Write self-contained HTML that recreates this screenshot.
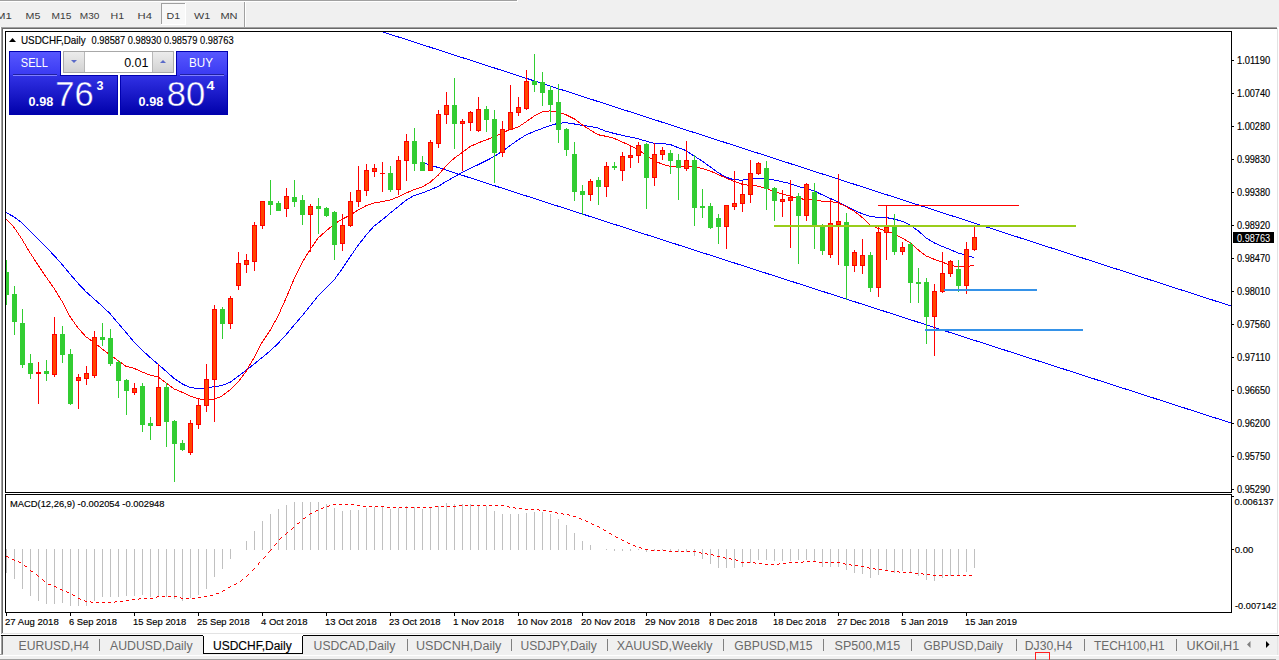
<!DOCTYPE html>
<html><head><meta charset="utf-8"><title>USDCHF,Daily</title>
<style>html,body{margin:0;padding:0;background:#f0f0f0}#root{position:relative;width:1279px;height:660px;overflow:hidden}</style>
</head><body><div id="root">
<svg width="1279" height="660" viewBox="0 0 1279 660" style="position:absolute;left:0;top:0"><defs><clipPath id="cm"><rect x="6" y="32" width="1225" height="460"/></clipPath><clipPath id="cd"><rect x="6" y="495" width="1225" height="117"/></clipPath><linearGradient id="gtop" x1="0" y1="0" x2="0" y2="1"><stop offset="0" stop-color="#5858ff"/><stop offset="1" stop-color="#3a3af2"/></linearGradient><linearGradient id="gbot" x1="0" y1="0" x2="0" y2="1"><stop offset="0" stop-color="#3232e6"/><stop offset="1" stop-color="#0000aa"/></linearGradient><linearGradient id="gbotU" gradientUnits="userSpaceOnUse" x1="0" y1="75" x2="0" y2="115"><stop offset="0" stop-color="#3232e6"/><stop offset="1" stop-color="#0000aa"/></linearGradient><linearGradient id="gbtn" x1="0" y1="0" x2="0" y2="1"><stop offset="0" stop-color="#ececec"/><stop offset="1" stop-color="#d2d2d2"/></linearGradient></defs><rect x="0" y="0" width="1279" height="660" fill="#f0f0f0"/><rect x="0" y="0" width="517" height="1" fill="#a0a0a0"/><rect x="0" y="1" width="518" height="1" fill="#ffffff"/><rect x="517" y="0" width="1" height="1" fill="#ffffff"/><rect x="0" y="27" width="1279" height="608" fill="#ffffff"/><rect x="1" y="27" width="1276" height="1" fill="#a0a0a0"/><rect x="1" y="27" width="1" height="607" fill="#a0a0a0"/><rect x="2" y="28" width="1275" height="1" fill="#696969"/><rect x="2" y="28" width="1" height="605" fill="#696969"/><rect x="1277" y="28" width="1" height="606" fill="#e3e3e3"/><rect x="2" y="633" width="1276" height="1" fill="#e3e3e3"/><rect x="1278" y="27" width="1" height="608" fill="#ffffff"/><rect x="161" y="3" width="25" height="22" fill="#f8f8f8"/><rect x="161" y="3" width="25" height="1" fill="#a0a0a0"/><rect x="161" y="3" width="1" height="22" fill="#a0a0a0"/><rect x="185" y="3" width="1" height="22" fill="#ffffff"/><rect x="161" y="24" width="25" height="1" fill="#ffffff"/><rect x="244" y="2" width="1" height="25" fill="#a0a0a0"/><rect x="245" y="2" width="1" height="25" fill="#ffffff"/><text x="-4" y="19" font-family="'Liberation Sans', Arial, sans-serif" font-size="9.6" fill="#3c3c3c" textLength="15.8" lengthAdjust="spacingAndGlyphs">M1</text><text x="25.6" y="19" font-family="'Liberation Sans', Arial, sans-serif" font-size="9.6" fill="#3c3c3c" textLength="14.8" lengthAdjust="spacingAndGlyphs">M5</text><text x="51.6" y="19" font-family="'Liberation Sans', Arial, sans-serif" font-size="9.6" fill="#3c3c3c" textLength="19.8" lengthAdjust="spacingAndGlyphs">M15</text><text x="79.8" y="19" font-family="'Liberation Sans', Arial, sans-serif" font-size="9.6" fill="#3c3c3c" textLength="19.6" lengthAdjust="spacingAndGlyphs">M30</text><text x="110.6" y="19" font-family="'Liberation Sans', Arial, sans-serif" font-size="9.6" fill="#3c3c3c" textLength="13.6" lengthAdjust="spacingAndGlyphs">H1</text><text x="137.6" y="19" font-family="'Liberation Sans', Arial, sans-serif" font-size="9.6" fill="#3c3c3c" textLength="14.4" lengthAdjust="spacingAndGlyphs">H4</text><text x="166.6" y="19" font-family="'Liberation Sans', Arial, sans-serif" font-size="9.6" fill="#3c3c3c" textLength="13.6" lengthAdjust="spacingAndGlyphs">D1</text><text x="194" y="19" font-family="'Liberation Sans', Arial, sans-serif" font-size="9.6" fill="#3c3c3c" textLength="16.2" lengthAdjust="spacingAndGlyphs">W1</text><text x="220.4" y="19" font-family="'Liberation Sans', Arial, sans-serif" font-size="9.6" fill="#3c3c3c" textLength="17.2" lengthAdjust="spacingAndGlyphs">MN</text><rect x="5.5" y="31.5" width="1226" height="461" fill="none" stroke="#000" stroke-width="1"/><rect x="5.5" y="494.5" width="1226" height="118" fill="none" stroke="#000" stroke-width="1"/><g clip-path="url(#cm)"><g shape-rendering="crispEdges" stroke="#0000ff" stroke-width="1" fill="none"><line x1="383" y1="32" x2="1231" y2="306"/><line x1="425" y1="163.3" x2="1231" y2="423"/></g><polyline points="6,212.6 14,216.8 22,223.0 30,231.1 38,239.1 46,247.0 54,255.4 62,264.4 70,274.0 78,283.3 86,291.8 94,298.9 102,306.0 110,313.6 118,323.1 126,332.3 134,341.9 142,350.0 150,357.3 158,364.2 166,371.2 174,378.3 182,383.8 190,387.5 198,388.5 206,388.2 214,386.7 222,385.5 230,382.3 238,376.5 246,370.5 254,364.1 262,357.6 270,351.0 278,343.5 286,334.8 294,325.3 302,316.0 310,306.0 318,296.1 326,288.1 334,280.1 342,269.0 350,257.1 358,245.4 366,235.3 374,226.1 382,220.0 390,213.2 398,206.8 406,200.3 414,195.6 422,193.1 430,190.0 438,186.5 446,181.5 454,177.0 462,172.5 470,168.3 478,164.8 486,160.8 494,156.6 502,151.5 510,145.7 518,139.9 526,135.0 534,131.5 542,128.5 550,125.6 558,123.3 566,122.7 574,123.9 582,125.4 590,126.3 598,128.1 606,131.3 614,133.4 622,135.3 630,137.0 638,138.7 646,141.1 654,143.4 662,143.5 670,144.4 678,147.6 686,150.6 694,155.9 702,160.9 710,166.7 718,172.6 726,177.2 734,179.8 742,180.1 750,179.2 758,178.5 766,178.8 774,180.0 782,181.7 790,183.5 798,186.5 806,188.4 814,190.8 822,194.7 830,198.3 838,201.8 846,206.0 854,210.2 862,213.6 870,216.2 878,217.5 886,217.5 894,219.1 902,221.2 910,225.1 918,230.7 926,237.8 934,242.8 942,246.3 950,249.4 958,253.0 966,255.0 974,257.6" fill="none" stroke="#0000ff" stroke-width="1" shape-rendering="crispEdges"/><polyline points="6,218.8 14,227.3 22,239.3 30,252.7 38,265.0 46,276.9 54,288.2 62,301.3 70,316.6 78,327.9 86,336.8 94,342.5 102,348.8 110,354.8 118,360.6 126,366.3 134,368.3 142,371.9 150,375.1 158,376.8 166,382.8 174,388.9 182,392.2 190,396.0 198,398.5 206,400.3 214,399.4 222,396.0 230,389.8 238,382.2 246,371.5 254,357.7 262,342.5 270,330.5 278,316.1 286,298.3 294,279.2 302,262.7 310,249.8 318,238.1 326,231.1 334,224.2 342,219.3 350,215.3 358,210.1 366,205.8 374,203.0 382,201.6 390,200.1 398,197.0 406,193.1 414,189.5 422,187.2 430,182.3 438,175.4 446,166.0 454,158.4 462,152.7 470,146.6 478,143.0 486,139.9 494,137.0 502,132.9 510,129.6 518,127.2 526,121.8 534,116.2 542,112.0 550,110.8 558,112.4 566,114.7 574,118.7 582,124.7 590,129.8 598,134.7 606,136.3 614,138.3 622,141.9 630,145.4 638,149.8 646,155.0 654,160.6 662,164.1 670,166.3 678,166.3 686,166.3 694,166.8 702,168.4 710,170.9 718,174.4 726,178.1 734,181.3 742,184.2 750,185.5 758,186.1 766,188.4 774,191.3 782,193.9 790,196.0 798,198.5 806,199.4 814,200.0 822,201.1 830,201.5 838,202.8 846,206.6 854,211.0 862,217.3 870,224.9 878,228.5 886,231.0 894,233.8 902,237.9 910,242.8 918,249.7 926,255.9 934,259.2 942,262.1 950,265.0 958,267.0 966,266.8 974,265.3" fill="none" stroke="#ff0000" stroke-width="1" shape-rendering="crispEdges"/><g shape-rendering="crispEdges"><rect x="6" y="260" width="1" height="45" fill="#32cd32"/><rect x="4" y="272" width="5" height="23" fill="#32cd32"/><rect x="14" y="286" width="1" height="49" fill="#32cd32"/><rect x="12" y="294" width="5" height="28" fill="#32cd32"/><rect x="22" y="309" width="1" height="59" fill="#32cd32"/><rect x="20" y="323" width="5" height="42" fill="#32cd32"/><rect x="30" y="354" width="1" height="25" fill="#32cd32"/><rect x="28" y="363" width="5" height="11" fill="#32cd32"/><rect x="38" y="362" width="1" height="42" fill="#ff0000"/><rect x="36" y="372" width="5" height="2" fill="#ff0000"/><rect x="46" y="360" width="1" height="21" fill="#32cd32"/><rect x="44" y="371" width="5" height="3" fill="#32cd32"/><rect x="54" y="317" width="1" height="60" fill="#ff0000"/><rect x="52" y="334" width="5" height="41" fill="#ff0000"/><rect x="53" y="335" width="3" height="39" fill="#ff4500"/><rect x="62" y="326" width="1" height="37" fill="#32cd32"/><rect x="60" y="334" width="5" height="21" fill="#32cd32"/><rect x="70" y="349" width="1" height="56" fill="#32cd32"/><rect x="68" y="354" width="5" height="50" fill="#32cd32"/><rect x="78" y="374" width="1" height="35" fill="#ff0000"/><rect x="76" y="377" width="5" height="4" fill="#ff0000"/><rect x="77" y="378" width="3" height="2" fill="#ff4500"/><rect x="86" y="366" width="1" height="19" fill="#ff0000"/><rect x="84" y="373" width="5" height="6" fill="#ff0000"/><rect x="85" y="374" width="3" height="4" fill="#ff4500"/><rect x="94" y="331" width="1" height="47" fill="#ff0000"/><rect x="92" y="337" width="5" height="39" fill="#ff0000"/><rect x="93" y="338" width="3" height="37" fill="#ff4500"/><rect x="102" y="323" width="1" height="23" fill="#32cd32"/><rect x="100" y="337" width="5" height="3" fill="#32cd32"/><rect x="110" y="329" width="1" height="37" fill="#32cd32"/><rect x="108" y="338" width="5" height="26" fill="#32cd32"/><rect x="118" y="360" width="1" height="38" fill="#32cd32"/><rect x="116" y="362" width="5" height="19" fill="#32cd32"/><rect x="126" y="379" width="1" height="36" fill="#32cd32"/><rect x="124" y="380" width="5" height="11" fill="#32cd32"/><rect x="134" y="383" width="1" height="12" fill="#ff0000"/><rect x="132" y="388" width="5" height="5" fill="#ff0000"/><rect x="133" y="389" width="3" height="3" fill="#ff4500"/><rect x="142" y="383" width="1" height="49" fill="#32cd32"/><rect x="140" y="386" width="5" height="39" fill="#32cd32"/><rect x="150" y="417" width="1" height="23" fill="#32cd32"/><rect x="148" y="423" width="5" height="3" fill="#32cd32"/><rect x="158" y="364" width="1" height="62" fill="#ff0000"/><rect x="156" y="387" width="5" height="39" fill="#ff0000"/><rect x="157" y="388" width="3" height="37" fill="#ff4500"/><rect x="166" y="383" width="1" height="64" fill="#32cd32"/><rect x="164" y="387" width="5" height="35" fill="#32cd32"/><rect x="174" y="420" width="1" height="62" fill="#32cd32"/><rect x="172" y="421" width="5" height="23" fill="#32cd32"/><rect x="182" y="440" width="1" height="11" fill="#32cd32"/><rect x="180" y="443" width="5" height="7" fill="#32cd32"/><rect x="190" y="420" width="1" height="35" fill="#ff0000"/><rect x="188" y="423" width="5" height="30" fill="#ff0000"/><rect x="189" y="424" width="3" height="28" fill="#ff4500"/><rect x="198" y="398" width="1" height="31" fill="#ff0000"/><rect x="196" y="405" width="5" height="20" fill="#ff0000"/><rect x="197" y="406" width="3" height="18" fill="#ff4500"/><rect x="206" y="364" width="1" height="48" fill="#ff0000"/><rect x="204" y="379" width="5" height="27" fill="#ff0000"/><rect x="205" y="380" width="3" height="25" fill="#ff4500"/><rect x="214" y="305" width="1" height="117" fill="#ff0000"/><rect x="212" y="309" width="5" height="71" fill="#ff0000"/><rect x="213" y="310" width="3" height="69" fill="#ff4500"/><rect x="222" y="307" width="1" height="32" fill="#32cd32"/><rect x="220" y="309" width="5" height="15" fill="#32cd32"/><rect x="230" y="296" width="1" height="33" fill="#ff0000"/><rect x="228" y="298" width="5" height="26" fill="#ff0000"/><rect x="229" y="299" width="3" height="24" fill="#ff4500"/><rect x="238" y="252" width="1" height="38" fill="#ff0000"/><rect x="236" y="263" width="5" height="23" fill="#ff0000"/><rect x="237" y="264" width="3" height="21" fill="#ff4500"/><rect x="246" y="254" width="1" height="19" fill="#ff0000"/><rect x="244" y="260" width="5" height="5" fill="#ff0000"/><rect x="245" y="261" width="3" height="3" fill="#ff4500"/><rect x="254" y="222" width="1" height="49" fill="#ff0000"/><rect x="252" y="225" width="5" height="37" fill="#ff0000"/><rect x="253" y="226" width="3" height="35" fill="#ff4500"/><rect x="262" y="201" width="1" height="28" fill="#ff0000"/><rect x="260" y="201" width="5" height="25" fill="#ff0000"/><rect x="261" y="202" width="3" height="23" fill="#ff4500"/><rect x="270" y="180" width="1" height="35" fill="#32cd32"/><rect x="268" y="201" width="5" height="4" fill="#32cd32"/><rect x="278" y="201" width="1" height="10" fill="#32cd32"/><rect x="276" y="203" width="5" height="8" fill="#32cd32"/><rect x="286" y="188" width="1" height="29" fill="#ff0000"/><rect x="284" y="196" width="5" height="13" fill="#ff0000"/><rect x="285" y="197" width="3" height="11" fill="#ff4500"/><rect x="294" y="180" width="1" height="27" fill="#32cd32"/><rect x="292" y="197" width="5" height="5" fill="#32cd32"/><rect x="302" y="195" width="1" height="30" fill="#32cd32"/><rect x="300" y="200" width="5" height="15" fill="#32cd32"/><rect x="310" y="204" width="1" height="48" fill="#ff0000"/><rect x="308" y="206" width="5" height="9" fill="#ff0000"/><rect x="309" y="207" width="3" height="7" fill="#ff4500"/><rect x="318" y="198" width="1" height="36" fill="#32cd32"/><rect x="316" y="206" width="5" height="3" fill="#32cd32"/><rect x="326" y="207" width="1" height="10" fill="#32cd32"/><rect x="324" y="208" width="5" height="8" fill="#32cd32"/><rect x="334" y="211" width="1" height="49" fill="#32cd32"/><rect x="332" y="212" width="5" height="33" fill="#32cd32"/><rect x="342" y="214" width="1" height="37" fill="#ff0000"/><rect x="340" y="225" width="5" height="19" fill="#ff0000"/><rect x="341" y="226" width="3" height="17" fill="#ff4500"/><rect x="350" y="192" width="1" height="35" fill="#ff0000"/><rect x="348" y="201" width="5" height="25" fill="#ff0000"/><rect x="349" y="202" width="3" height="23" fill="#ff4500"/><rect x="358" y="166" width="1" height="41" fill="#ff0000"/><rect x="356" y="190" width="5" height="12" fill="#ff0000"/><rect x="357" y="191" width="3" height="10" fill="#ff4500"/><rect x="366" y="164" width="1" height="32" fill="#ff0000"/><rect x="364" y="170" width="5" height="21" fill="#ff0000"/><rect x="365" y="171" width="3" height="19" fill="#ff4500"/><rect x="374" y="164" width="1" height="13" fill="#ff0000"/><rect x="372" y="168" width="5" height="4" fill="#ff0000"/><rect x="373" y="169" width="3" height="2" fill="#ff4500"/><rect x="382" y="162" width="1" height="30" fill="#ff0000"/><rect x="380" y="173" width="5" height="1" fill="#ff0000"/><rect x="390" y="166" width="1" height="26" fill="#32cd32"/><rect x="388" y="173" width="5" height="17" fill="#32cd32"/><rect x="398" y="156" width="1" height="39" fill="#ff0000"/><rect x="396" y="160" width="5" height="30" fill="#ff0000"/><rect x="397" y="161" width="3" height="28" fill="#ff4500"/><rect x="406" y="134" width="1" height="47" fill="#ff0000"/><rect x="404" y="141" width="5" height="20" fill="#ff0000"/><rect x="405" y="142" width="3" height="18" fill="#ff4500"/><rect x="414" y="128" width="1" height="43" fill="#32cd32"/><rect x="412" y="141" width="5" height="23" fill="#32cd32"/><rect x="422" y="156" width="1" height="15" fill="#32cd32"/><rect x="420" y="162" width="5" height="9" fill="#32cd32"/><rect x="430" y="140" width="1" height="31" fill="#ff0000"/><rect x="428" y="142" width="5" height="29" fill="#ff0000"/><rect x="429" y="143" width="3" height="27" fill="#ff4500"/><rect x="438" y="110" width="1" height="38" fill="#ff0000"/><rect x="436" y="114" width="5" height="30" fill="#ff0000"/><rect x="437" y="115" width="3" height="28" fill="#ff4500"/><rect x="446" y="92" width="1" height="32" fill="#ff0000"/><rect x="444" y="105" width="5" height="10" fill="#ff0000"/><rect x="445" y="106" width="3" height="8" fill="#ff4500"/><rect x="454" y="78" width="1" height="71" fill="#32cd32"/><rect x="452" y="105" width="5" height="19" fill="#32cd32"/><rect x="462" y="119" width="1" height="52" fill="#ff0000"/><rect x="460" y="121" width="5" height="3" fill="#ff0000"/><rect x="461" y="122" width="3" height="1" fill="#ff4500"/><rect x="470" y="111" width="1" height="20" fill="#ff0000"/><rect x="468" y="112" width="5" height="11" fill="#ff0000"/><rect x="469" y="113" width="3" height="9" fill="#ff4500"/><rect x="478" y="97" width="1" height="35" fill="#ff0000"/><rect x="476" y="109" width="5" height="22" fill="#ff0000"/><rect x="477" y="110" width="3" height="20" fill="#ff4500"/><rect x="486" y="106" width="1" height="26" fill="#32cd32"/><rect x="484" y="109" width="5" height="11" fill="#32cd32"/><rect x="494" y="110" width="1" height="73" fill="#32cd32"/><rect x="492" y="119" width="5" height="34" fill="#32cd32"/><rect x="502" y="121" width="1" height="36" fill="#ff0000"/><rect x="500" y="129" width="5" height="24" fill="#ff0000"/><rect x="501" y="130" width="3" height="22" fill="#ff4500"/><rect x="510" y="85" width="1" height="45" fill="#ff0000"/><rect x="508" y="112" width="5" height="18" fill="#ff0000"/><rect x="509" y="113" width="3" height="16" fill="#ff4500"/><rect x="518" y="97" width="1" height="19" fill="#ff0000"/><rect x="516" y="107" width="5" height="6" fill="#ff0000"/><rect x="517" y="108" width="3" height="4" fill="#ff4500"/><rect x="526" y="70" width="1" height="40" fill="#ff0000"/><rect x="524" y="81" width="5" height="28" fill="#ff0000"/><rect x="525" y="82" width="3" height="26" fill="#ff4500"/><rect x="534" y="54" width="1" height="38" fill="#32cd32"/><rect x="532" y="81" width="5" height="4" fill="#32cd32"/><rect x="542" y="72" width="1" height="34" fill="#32cd32"/><rect x="540" y="82" width="5" height="11" fill="#32cd32"/><rect x="550" y="86" width="1" height="36" fill="#32cd32"/><rect x="548" y="90" width="5" height="15" fill="#32cd32"/><rect x="558" y="84" width="1" height="59" fill="#32cd32"/><rect x="556" y="102" width="5" height="28" fill="#32cd32"/><rect x="566" y="128" width="1" height="28" fill="#32cd32"/><rect x="564" y="129" width="5" height="21" fill="#32cd32"/><rect x="574" y="142" width="1" height="59" fill="#32cd32"/><rect x="572" y="154" width="5" height="38" fill="#32cd32"/><rect x="582" y="185" width="1" height="30" fill="#32cd32"/><rect x="580" y="191" width="5" height="4" fill="#32cd32"/><rect x="590" y="179" width="1" height="22" fill="#ff0000"/><rect x="588" y="181" width="5" height="14" fill="#ff0000"/><rect x="589" y="182" width="3" height="12" fill="#ff4500"/><rect x="598" y="177" width="1" height="28" fill="#32cd32"/><rect x="596" y="180" width="5" height="7" fill="#32cd32"/><rect x="606" y="162" width="1" height="35" fill="#ff0000"/><rect x="604" y="166" width="5" height="21" fill="#ff0000"/><rect x="605" y="167" width="3" height="19" fill="#ff4500"/><rect x="614" y="162" width="1" height="8" fill="#32cd32"/><rect x="612" y="166" width="5" height="2" fill="#32cd32"/><rect x="622" y="152" width="1" height="29" fill="#ff0000"/><rect x="620" y="156" width="5" height="15" fill="#ff0000"/><rect x="621" y="157" width="3" height="13" fill="#ff4500"/><rect x="630" y="145" width="1" height="23" fill="#ff0000"/><rect x="628" y="155" width="5" height="3" fill="#ff0000"/><rect x="629" y="156" width="3" height="1" fill="#ff4500"/><rect x="638" y="142" width="1" height="21" fill="#ff0000"/><rect x="636" y="145" width="5" height="11" fill="#ff0000"/><rect x="637" y="146" width="3" height="9" fill="#ff4500"/><rect x="646" y="143" width="1" height="66" fill="#32cd32"/><rect x="644" y="144" width="5" height="34" fill="#32cd32"/><rect x="654" y="143" width="1" height="43" fill="#ff0000"/><rect x="652" y="154" width="5" height="24" fill="#ff0000"/><rect x="653" y="155" width="3" height="22" fill="#ff4500"/><rect x="662" y="147" width="1" height="13" fill="#ff0000"/><rect x="660" y="150" width="5" height="5" fill="#ff0000"/><rect x="661" y="151" width="3" height="3" fill="#ff4500"/><rect x="670" y="150" width="1" height="24" fill="#32cd32"/><rect x="668" y="153" width="5" height="8" fill="#32cd32"/><rect x="678" y="154" width="1" height="46" fill="#32cd32"/><rect x="676" y="160" width="5" height="8" fill="#32cd32"/><rect x="686" y="141" width="1" height="30" fill="#ff0000"/><rect x="684" y="160" width="5" height="9" fill="#ff0000"/><rect x="685" y="161" width="3" height="7" fill="#ff4500"/><rect x="694" y="155" width="1" height="71" fill="#32cd32"/><rect x="692" y="160" width="5" height="48" fill="#32cd32"/><rect x="702" y="189" width="1" height="29" fill="#32cd32"/><rect x="700" y="206" width="5" height="2" fill="#32cd32"/><rect x="710" y="203" width="1" height="26" fill="#32cd32"/><rect x="708" y="206" width="5" height="22" fill="#32cd32"/><rect x="718" y="214" width="1" height="30" fill="#32cd32"/><rect x="716" y="218" width="5" height="9" fill="#32cd32"/><rect x="726" y="205" width="1" height="44" fill="#ff0000"/><rect x="724" y="205" width="5" height="22" fill="#ff0000"/><rect x="725" y="206" width="3" height="20" fill="#ff4500"/><rect x="734" y="171" width="1" height="39" fill="#ff0000"/><rect x="732" y="203" width="5" height="4" fill="#ff0000"/><rect x="733" y="204" width="3" height="2" fill="#ff4500"/><rect x="742" y="181" width="1" height="31" fill="#ff0000"/><rect x="740" y="194" width="5" height="10" fill="#ff0000"/><rect x="741" y="195" width="3" height="8" fill="#ff4500"/><rect x="750" y="160" width="1" height="43" fill="#ff0000"/><rect x="748" y="173" width="5" height="22" fill="#ff0000"/><rect x="749" y="174" width="3" height="20" fill="#ff4500"/><rect x="758" y="162" width="1" height="13" fill="#ff0000"/><rect x="756" y="163" width="5" height="11" fill="#ff0000"/><rect x="757" y="164" width="3" height="9" fill="#ff4500"/><rect x="766" y="161" width="1" height="49" fill="#32cd32"/><rect x="764" y="168" width="5" height="21" fill="#32cd32"/><rect x="774" y="187" width="1" height="34" fill="#32cd32"/><rect x="772" y="188" width="5" height="13" fill="#32cd32"/><rect x="782" y="190" width="1" height="27" fill="#ff0000"/><rect x="780" y="199" width="5" height="3" fill="#ff0000"/><rect x="781" y="200" width="3" height="1" fill="#ff4500"/><rect x="790" y="180" width="1" height="68" fill="#ff0000"/><rect x="788" y="197" width="5" height="4" fill="#ff0000"/><rect x="789" y="198" width="3" height="2" fill="#ff4500"/><rect x="798" y="193" width="1" height="71" fill="#32cd32"/><rect x="796" y="196" width="5" height="20" fill="#32cd32"/><rect x="806" y="183" width="1" height="38" fill="#ff0000"/><rect x="804" y="184" width="5" height="32" fill="#ff0000"/><rect x="805" y="185" width="3" height="30" fill="#ff4500"/><rect x="814" y="183" width="1" height="66" fill="#32cd32"/><rect x="812" y="192" width="5" height="34" fill="#32cd32"/><rect x="822" y="224" width="1" height="31" fill="#32cd32"/><rect x="820" y="226" width="5" height="25" fill="#32cd32"/><rect x="830" y="199" width="1" height="59" fill="#ff0000"/><rect x="828" y="223" width="5" height="32" fill="#ff0000"/><rect x="829" y="224" width="3" height="30" fill="#ff4500"/><rect x="838" y="174" width="1" height="91" fill="#ff0000"/><rect x="836" y="221" width="5" height="4" fill="#ff0000"/><rect x="837" y="222" width="3" height="2" fill="#ff4500"/><rect x="846" y="213" width="1" height="87" fill="#32cd32"/><rect x="844" y="222" width="5" height="44" fill="#32cd32"/><rect x="854" y="250" width="1" height="22" fill="#ff0000"/><rect x="852" y="252" width="5" height="14" fill="#ff0000"/><rect x="853" y="253" width="3" height="12" fill="#ff4500"/><rect x="862" y="239" width="1" height="35" fill="#ff0000"/><rect x="860" y="255" width="5" height="11" fill="#ff0000"/><rect x="861" y="256" width="3" height="9" fill="#ff4500"/><rect x="870" y="252" width="1" height="40" fill="#32cd32"/><rect x="868" y="255" width="5" height="33" fill="#32cd32"/><rect x="878" y="225" width="1" height="72" fill="#ff0000"/><rect x="876" y="232" width="5" height="56" fill="#ff0000"/><rect x="877" y="233" width="3" height="54" fill="#ff4500"/><rect x="886" y="205" width="1" height="55" fill="#ff0000"/><rect x="884" y="227" width="5" height="6" fill="#ff0000"/><rect x="885" y="228" width="3" height="4" fill="#ff4500"/><rect x="894" y="214" width="1" height="41" fill="#32cd32"/><rect x="892" y="227" width="5" height="25" fill="#32cd32"/><rect x="902" y="242" width="1" height="13" fill="#ff0000"/><rect x="900" y="247" width="5" height="5" fill="#ff0000"/><rect x="901" y="248" width="3" height="3" fill="#ff4500"/><rect x="910" y="242" width="1" height="61" fill="#32cd32"/><rect x="908" y="244" width="5" height="39" fill="#32cd32"/><rect x="918" y="268" width="1" height="35" fill="#32cd32"/><rect x="916" y="282" width="5" height="2" fill="#32cd32"/><rect x="926" y="278" width="1" height="66" fill="#32cd32"/><rect x="924" y="282" width="5" height="35" fill="#32cd32"/><rect x="934" y="284" width="1" height="72" fill="#ff0000"/><rect x="932" y="291" width="5" height="26" fill="#ff0000"/><rect x="933" y="292" width="3" height="24" fill="#ff4500"/><rect x="942" y="252" width="1" height="41" fill="#ff0000"/><rect x="940" y="273" width="5" height="19" fill="#ff0000"/><rect x="941" y="274" width="3" height="17" fill="#ff4500"/><rect x="950" y="260" width="1" height="17" fill="#ff0000"/><rect x="948" y="261" width="5" height="13" fill="#ff0000"/><rect x="949" y="262" width="3" height="11" fill="#ff4500"/><rect x="958" y="260" width="1" height="32" fill="#32cd32"/><rect x="956" y="269" width="5" height="17" fill="#32cd32"/><rect x="966" y="242" width="1" height="52" fill="#ff0000"/><rect x="964" y="249" width="5" height="37" fill="#ff0000"/><rect x="965" y="250" width="3" height="35" fill="#ff4500"/><rect x="974" y="227" width="1" height="24" fill="#ff0000"/><rect x="972" y="237" width="5" height="13" fill="#ff0000"/><rect x="973" y="238" width="3" height="11" fill="#ff4500"/></g><g shape-rendering="crispEdges"><rect x="878" y="205" width="141" height="1" fill="#ff0000"/><rect x="774" y="225" width="302" height="2" fill="#9acd1a"/><rect x="944" y="289" width="93" height="2" fill="#3592e8"/><rect x="925" y="329" width="158" height="2" fill="#3592e8"/></g></g><g shape-rendering="crispEdges"><rect x="1232" y="60" width="2" height="1" fill="#000"/><rect x="1232" y="93" width="2" height="1" fill="#000"/><rect x="1232" y="126" width="2" height="1" fill="#000"/><rect x="1232" y="159" width="2" height="1" fill="#000"/><rect x="1232" y="192" width="2" height="1" fill="#000"/><rect x="1232" y="225" width="2" height="1" fill="#000"/><rect x="1232" y="258" width="2" height="1" fill="#000"/><rect x="1232" y="291" width="2" height="1" fill="#000"/><rect x="1232" y="324" width="2" height="1" fill="#000"/><rect x="1232" y="357" width="2" height="1" fill="#000"/><rect x="1232" y="390" width="2" height="1" fill="#000"/><rect x="1232" y="423" width="2" height="1" fill="#000"/><rect x="1232" y="456" width="2" height="1" fill="#000"/><rect x="1232" y="489" width="2" height="1" fill="#000"/></g><text x="1237" y="64" font-family="'Liberation Sans', Arial, sans-serif" font-size="10" fill="#000" stroke="#000" stroke-width="0.15" textLength="33.2" lengthAdjust="spacingAndGlyphs">1.01190</text><text x="1237" y="97" font-family="'Liberation Sans', Arial, sans-serif" font-size="10" fill="#000" stroke="#000" stroke-width="0.15" textLength="33.2" lengthAdjust="spacingAndGlyphs">1.00740</text><text x="1237" y="130" font-family="'Liberation Sans', Arial, sans-serif" font-size="10" fill="#000" stroke="#000" stroke-width="0.15" textLength="33.2" lengthAdjust="spacingAndGlyphs">1.00280</text><text x="1237" y="163" font-family="'Liberation Sans', Arial, sans-serif" font-size="10" fill="#000" stroke="#000" stroke-width="0.15" textLength="33.2" lengthAdjust="spacingAndGlyphs">0.99830</text><text x="1237" y="196" font-family="'Liberation Sans', Arial, sans-serif" font-size="10" fill="#000" stroke="#000" stroke-width="0.15" textLength="33.2" lengthAdjust="spacingAndGlyphs">0.99380</text><text x="1237" y="229" font-family="'Liberation Sans', Arial, sans-serif" font-size="10" fill="#000" stroke="#000" stroke-width="0.15" textLength="33.2" lengthAdjust="spacingAndGlyphs">0.98920</text><text x="1237" y="262" font-family="'Liberation Sans', Arial, sans-serif" font-size="10" fill="#000" stroke="#000" stroke-width="0.15" textLength="33.2" lengthAdjust="spacingAndGlyphs">0.98470</text><text x="1237" y="295" font-family="'Liberation Sans', Arial, sans-serif" font-size="10" fill="#000" stroke="#000" stroke-width="0.15" textLength="33.2" lengthAdjust="spacingAndGlyphs">0.98010</text><text x="1237" y="328" font-family="'Liberation Sans', Arial, sans-serif" font-size="10" fill="#000" stroke="#000" stroke-width="0.15" textLength="33.2" lengthAdjust="spacingAndGlyphs">0.97560</text><text x="1237" y="361" font-family="'Liberation Sans', Arial, sans-serif" font-size="10" fill="#000" stroke="#000" stroke-width="0.15" textLength="33.2" lengthAdjust="spacingAndGlyphs">0.97110</text><text x="1237" y="394" font-family="'Liberation Sans', Arial, sans-serif" font-size="10" fill="#000" stroke="#000" stroke-width="0.15" textLength="33.2" lengthAdjust="spacingAndGlyphs">0.96650</text><text x="1237" y="427" font-family="'Liberation Sans', Arial, sans-serif" font-size="10" fill="#000" stroke="#000" stroke-width="0.15" textLength="33.2" lengthAdjust="spacingAndGlyphs">0.96200</text><text x="1237" y="460" font-family="'Liberation Sans', Arial, sans-serif" font-size="10" fill="#000" stroke="#000" stroke-width="0.15" textLength="33.2" lengthAdjust="spacingAndGlyphs">0.95750</text><text x="1237" y="493" font-family="'Liberation Sans', Arial, sans-serif" font-size="10" fill="#000" stroke="#000" stroke-width="0.15" textLength="33.2" lengthAdjust="spacingAndGlyphs">0.95290</text><rect x="1233" y="232" width="41" height="11" fill="#000"/><text x="1237" y="241.5" font-family="'Liberation Sans', Arial, sans-serif" font-size="10" fill="#fff" textLength="33.2" lengthAdjust="spacingAndGlyphs">0.98763</text><path d="M9,42 L16,42 L12.5,38 Z" fill="#000"/><text x="21" y="43.5" font-family="'Liberation Sans', Arial, sans-serif" font-size="10.4" fill="#000" stroke="#000" stroke-width="0.15" textLength="64.6" lengthAdjust="spacingAndGlyphs">USDCHF,Daily</text><text x="91.6" y="43.5" font-family="'Liberation Sans', Arial, sans-serif" font-size="10.2" fill="#000" stroke="#000" stroke-width="0.15" textLength="142" lengthAdjust="spacingAndGlyphs">0.98587 0.98930 0.98579 0.98763</text><g clip-path="url(#cd)" shape-rendering="crispEdges"><rect x="6" y="549" width="1" height="24" fill="#c0c0c0"/><rect x="14" y="549" width="1" height="30" fill="#c0c0c0"/><rect x="22" y="549" width="1" height="40" fill="#c0c0c0"/><rect x="30" y="549" width="1" height="47" fill="#c0c0c0"/><rect x="38" y="549" width="1" height="52" fill="#c0c0c0"/><rect x="46" y="549" width="1" height="55" fill="#c0c0c0"/><rect x="54" y="549" width="1" height="55" fill="#c0c0c0"/><rect x="62" y="549" width="1" height="54" fill="#c0c0c0"/><rect x="70" y="549" width="1" height="57" fill="#c0c0c0"/><rect x="78" y="549" width="1" height="57" fill="#c0c0c0"/><rect x="86" y="549" width="1" height="57" fill="#c0c0c0"/><rect x="94" y="549" width="1" height="52" fill="#c0c0c0"/><rect x="102" y="549" width="1" height="48" fill="#c0c0c0"/><rect x="110" y="549" width="1" height="48" fill="#c0c0c0"/><rect x="118" y="549" width="1" height="48" fill="#c0c0c0"/><rect x="126" y="549" width="1" height="47" fill="#c0c0c0"/><rect x="134" y="549" width="1" height="47" fill="#c0c0c0"/><rect x="142" y="549" width="1" height="46" fill="#c0c0c0"/><rect x="150" y="549" width="1" height="48" fill="#c0c0c0"/><rect x="158" y="549" width="1" height="48" fill="#c0c0c0"/><rect x="166" y="549" width="1" height="48" fill="#c0c0c0"/><rect x="174" y="549" width="1" height="50" fill="#c0c0c0"/><rect x="182" y="549" width="1" height="52" fill="#c0c0c0"/><rect x="190" y="549" width="1" height="49" fill="#c0c0c0"/><rect x="198" y="549" width="1" height="46" fill="#c0c0c0"/><rect x="206" y="549" width="1" height="40" fill="#c0c0c0"/><rect x="214" y="549" width="1" height="28" fill="#c0c0c0"/><rect x="222" y="549" width="1" height="20" fill="#c0c0c0"/><rect x="230" y="549" width="1" height="10" fill="#c0c0c0"/><rect x="246" y="541" width="1" height="9" fill="#c0c0c0"/><rect x="254" y="531" width="1" height="19" fill="#c0c0c0"/><rect x="262" y="521" width="1" height="29" fill="#c0c0c0"/><rect x="270" y="514" width="1" height="36" fill="#c0c0c0"/><rect x="278" y="509" width="1" height="41" fill="#c0c0c0"/><rect x="286" y="505" width="1" height="45" fill="#c0c0c0"/><rect x="294" y="502" width="1" height="48" fill="#c0c0c0"/><rect x="302" y="502" width="1" height="48" fill="#c0c0c0"/><rect x="310" y="502" width="1" height="48" fill="#c0c0c0"/><rect x="318" y="502" width="1" height="48" fill="#c0c0c0"/><rect x="326" y="504" width="1" height="46" fill="#c0c0c0"/><rect x="334" y="508" width="1" height="42" fill="#c0c0c0"/><rect x="342" y="511" width="1" height="39" fill="#c0c0c0"/><rect x="350" y="510" width="1" height="40" fill="#c0c0c0"/><rect x="358" y="510" width="1" height="40" fill="#c0c0c0"/><rect x="366" y="508" width="1" height="42" fill="#c0c0c0"/><rect x="374" y="507" width="1" height="43" fill="#c0c0c0"/><rect x="382" y="507" width="1" height="43" fill="#c0c0c0"/><rect x="390" y="509" width="1" height="41" fill="#c0c0c0"/><rect x="398" y="508" width="1" height="42" fill="#c0c0c0"/><rect x="406" y="506" width="1" height="44" fill="#c0c0c0"/><rect x="414" y="507" width="1" height="43" fill="#c0c0c0"/><rect x="422" y="509" width="1" height="41" fill="#c0c0c0"/><rect x="430" y="508" width="1" height="42" fill="#c0c0c0"/><rect x="438" y="506" width="1" height="44" fill="#c0c0c0"/><rect x="446" y="503" width="1" height="47" fill="#c0c0c0"/><rect x="454" y="504" width="1" height="46" fill="#c0c0c0"/><rect x="462" y="504" width="1" height="46" fill="#c0c0c0"/><rect x="470" y="504" width="1" height="46" fill="#c0c0c0"/><rect x="478" y="506" width="1" height="44" fill="#c0c0c0"/><rect x="486" y="506" width="1" height="44" fill="#c0c0c0"/><rect x="494" y="511" width="1" height="39" fill="#c0c0c0"/><rect x="502" y="514" width="1" height="36" fill="#c0c0c0"/><rect x="510" y="514" width="1" height="36" fill="#c0c0c0"/><rect x="518" y="514" width="1" height="36" fill="#c0c0c0"/><rect x="526" y="513" width="1" height="37" fill="#c0c0c0"/><rect x="534" y="512" width="1" height="38" fill="#c0c0c0"/><rect x="542" y="512" width="1" height="38" fill="#c0c0c0"/><rect x="550" y="514" width="1" height="36" fill="#c0c0c0"/><rect x="558" y="519" width="1" height="31" fill="#c0c0c0"/><rect x="566" y="525" width="1" height="25" fill="#c0c0c0"/><rect x="574" y="533" width="1" height="17" fill="#c0c0c0"/><rect x="582" y="541" width="1" height="9" fill="#c0c0c0"/><rect x="590" y="545" width="1" height="5" fill="#c0c0c0"/><rect x="606" y="549" width="1" height="1" fill="#c0c0c0"/><rect x="614" y="549" width="1" height="2" fill="#c0c0c0"/><rect x="622" y="549" width="1" height="2" fill="#c0c0c0"/><rect x="630" y="549" width="1" height="2" fill="#c0c0c0"/><rect x="638" y="549" width="1" height="1" fill="#c0c0c0"/><rect x="646" y="549" width="1" height="3" fill="#c0c0c0"/><rect x="654" y="549" width="1" height="2" fill="#c0c0c0"/><rect x="662" y="549" width="1" height="1" fill="#c0c0c0"/><rect x="670" y="549" width="1" height="3" fill="#c0c0c0"/><rect x="678" y="549" width="1" height="3" fill="#c0c0c0"/><rect x="686" y="549" width="1" height="3" fill="#c0c0c0"/><rect x="694" y="549" width="1" height="7" fill="#c0c0c0"/><rect x="702" y="549" width="1" height="10" fill="#c0c0c0"/><rect x="710" y="549" width="1" height="15" fill="#c0c0c0"/><rect x="718" y="549" width="1" height="19" fill="#c0c0c0"/><rect x="726" y="549" width="1" height="19" fill="#c0c0c0"/><rect x="734" y="549" width="1" height="19" fill="#c0c0c0"/><rect x="742" y="549" width="1" height="18" fill="#c0c0c0"/><rect x="750" y="549" width="1" height="14" fill="#c0c0c0"/><rect x="758" y="549" width="1" height="11" fill="#c0c0c0"/><rect x="766" y="549" width="1" height="11" fill="#c0c0c0"/><rect x="774" y="549" width="1" height="12" fill="#c0c0c0"/><rect x="782" y="549" width="1" height="12" fill="#c0c0c0"/><rect x="790" y="549" width="1" height="12" fill="#c0c0c0"/><rect x="798" y="549" width="1" height="11" fill="#c0c0c0"/><rect x="806" y="549" width="1" height="11" fill="#c0c0c0"/><rect x="814" y="549" width="1" height="12" fill="#c0c0c0"/><rect x="822" y="549" width="1" height="18" fill="#c0c0c0"/><rect x="830" y="549" width="1" height="18" fill="#c0c0c0"/><rect x="838" y="549" width="1" height="18" fill="#c0c0c0"/><rect x="846" y="549" width="1" height="21" fill="#c0c0c0"/><rect x="854" y="549" width="1" height="24" fill="#c0c0c0"/><rect x="862" y="549" width="1" height="25" fill="#c0c0c0"/><rect x="870" y="549" width="1" height="29" fill="#c0c0c0"/><rect x="878" y="549" width="1" height="26" fill="#c0c0c0"/><rect x="886" y="549" width="1" height="22" fill="#c0c0c0"/><rect x="894" y="549" width="1" height="24" fill="#c0c0c0"/><rect x="902" y="549" width="1" height="22" fill="#c0c0c0"/><rect x="910" y="549" width="1" height="24" fill="#c0c0c0"/><rect x="918" y="549" width="1" height="27" fill="#c0c0c0"/><rect x="926" y="549" width="1" height="31" fill="#c0c0c0"/><rect x="934" y="549" width="1" height="32" fill="#c0c0c0"/><rect x="942" y="549" width="1" height="29" fill="#c0c0c0"/><rect x="950" y="549" width="1" height="27" fill="#c0c0c0"/><rect x="958" y="549" width="1" height="27" fill="#c0c0c0"/><rect x="966" y="549" width="1" height="23" fill="#c0c0c0"/><rect x="974" y="549" width="1" height="19" fill="#c0c0c0"/><g fill="#ff0000"><rect x="333" y="504" width="3" height="1"/><rect x="339" y="504" width="3" height="1"/><rect x="345" y="504" width="3" height="1"/><rect x="351" y="504" width="3" height="1"/><rect x="329" y="505" width="1" height="1"/><rect x="357" y="505" width="3" height="1"/><rect x="459" y="505" width="3" height="1"/><rect x="465" y="505" width="3" height="1"/><rect x="471" y="505" width="3" height="1"/><rect x="477" y="505" width="3" height="1"/><rect x="483" y="505" width="3" height="1"/><rect x="489" y="505" width="3" height="1"/><rect x="495" y="505" width="3" height="1"/><rect x="501" y="505" width="3" height="1"/><rect x="327" y="506" width="2" height="1"/><rect x="363" y="506" width="3" height="1"/><rect x="369" y="506" width="3" height="1"/><rect x="375" y="506" width="3" height="1"/><rect x="381" y="506" width="3" height="1"/><rect x="435" y="506" width="3" height="1"/><rect x="441" y="506" width="3" height="1"/><rect x="447" y="506" width="3" height="1"/><rect x="453" y="506" width="3" height="1"/><rect x="507" y="506" width="2" height="1"/><rect x="323" y="507" width="1" height="1"/><rect x="387" y="507" width="3" height="1"/><rect x="393" y="507" width="3" height="1"/><rect x="399" y="507" width="3" height="1"/><rect x="405" y="507" width="3" height="1"/><rect x="411" y="507" width="3" height="1"/><rect x="417" y="507" width="3" height="1"/><rect x="423" y="507" width="3" height="1"/><rect x="429" y="507" width="3" height="1"/><rect x="509" y="507" width="1" height="1"/><rect x="513" y="507" width="2" height="1"/><rect x="321" y="508" width="2" height="1"/><rect x="515" y="508" width="1" height="1"/><rect x="519" y="508" width="3" height="1"/><rect x="525" y="509" width="3" height="1"/><rect x="531" y="509" width="3" height="1"/><rect x="537" y="509" width="2" height="1"/><rect x="316" y="510" width="2" height="1"/><rect x="539" y="510" width="1" height="1"/><rect x="543" y="510" width="3" height="1"/><rect x="315" y="511" width="1" height="1"/><rect x="549" y="511" width="3" height="1"/><rect x="555" y="512" width="2" height="1"/><rect x="310" y="513" width="2" height="1"/><rect x="557" y="513" width="1" height="1"/><rect x="561" y="513" width="2" height="1"/><rect x="309" y="514" width="1" height="1"/><rect x="563" y="514" width="1" height="1"/><rect x="567" y="514" width="2" height="1"/><rect x="569" y="515" width="1" height="1"/><rect x="573" y="516" width="3" height="1"/><rect x="305" y="517" width="1" height="1"/><rect x="303" y="518" width="2" height="1"/><rect x="579" y="518" width="2" height="1"/><rect x="581" y="519" width="1" height="1"/><rect x="585" y="520" width="1" height="1"/><rect x="586" y="521" width="2" height="1"/><rect x="299" y="522" width="1" height="1"/><rect x="297" y="523" width="2" height="1"/><rect x="591" y="523" width="1" height="1"/><rect x="592" y="524" width="2" height="1"/><rect x="597" y="526" width="2" height="1"/><rect x="293" y="527" width="1" height="1"/><rect x="599" y="527" width="1" height="1"/><rect x="292" y="528" width="1" height="1"/><rect x="291" y="529" width="1" height="1"/><rect x="603" y="529" width="1" height="1"/><rect x="604" y="530" width="2" height="1"/><rect x="287" y="532" width="1" height="1"/><rect x="286" y="533" width="1" height="1"/><rect x="609" y="533" width="2" height="1"/><rect x="285" y="534" width="1" height="1"/><rect x="611" y="534" width="1" height="1"/><rect x="615" y="536" width="1" height="1"/><rect x="281" y="537" width="1" height="1"/><rect x="616" y="537" width="2" height="1"/><rect x="280" y="538" width="1" height="1"/><rect x="279" y="539" width="1" height="1"/><rect x="621" y="539" width="1" height="1"/><rect x="622" y="540" width="2" height="1"/><rect x="627" y="542" width="1" height="1"/><rect x="276" y="543" width="1" height="1"/><rect x="628" y="543" width="2" height="1"/><rect x="275" y="544" width="1" height="1"/><rect x="274" y="545" width="1" height="1"/><rect x="633" y="545" width="2" height="1"/><rect x="635" y="546" width="1" height="1"/><rect x="639" y="547" width="2" height="1"/><rect x="641" y="548" width="1" height="1"/><rect x="271" y="549" width="1" height="1"/><rect x="645" y="549" width="3" height="1"/><rect x="270" y="550" width="1" height="1"/><rect x="651" y="550" width="3" height="1"/><rect x="657" y="550" width="3" height="1"/><rect x="663" y="550" width="3" height="1"/><rect x="269" y="551" width="1" height="1"/><rect x="669" y="551" width="3" height="1"/><rect x="675" y="551" width="3" height="1"/><rect x="681" y="551" width="3" height="1"/><rect x="687" y="551" width="3" height="1"/><rect x="693" y="551" width="3" height="1"/><rect x="268" y="552" width="1" height="1"/><rect x="699" y="552" width="2" height="1"/><rect x="701" y="553" width="1" height="1"/><rect x="705" y="553" width="2" height="1"/><rect x="707" y="554" width="1" height="1"/><rect x="711" y="554" width="2" height="1"/><rect x="713" y="555" width="1" height="1"/><rect x="6" y="556" width="2" height="1"/><rect x="265" y="556" width="1" height="1"/><rect x="717" y="556" width="3" height="1"/><rect x="8" y="557" width="1" height="1"/><rect x="264" y="557" width="1" height="1"/><rect x="723" y="557" width="2" height="1"/><rect x="263" y="558" width="1" height="1"/><rect x="725" y="558" width="1" height="1"/><rect x="729" y="558" width="2" height="1"/><rect x="12" y="559" width="2" height="1"/><rect x="731" y="559" width="1" height="1"/><rect x="735" y="559" width="1" height="1"/><rect x="14" y="560" width="1" height="1"/><rect x="736" y="560" width="2" height="1"/><rect x="18" y="561" width="1" height="1"/><rect x="803" y="561" width="1" height="1"/><rect x="807" y="561" width="3" height="1"/><rect x="813" y="561" width="3" height="1"/><rect x="19" y="562" width="2" height="1"/><rect x="259" y="562" width="1" height="1"/><rect x="741" y="562" width="3" height="1"/><rect x="747" y="562" width="3" height="1"/><rect x="753" y="562" width="2" height="1"/><rect x="789" y="562" width="3" height="1"/><rect x="795" y="562" width="3" height="1"/><rect x="801" y="562" width="2" height="1"/><rect x="819" y="562" width="3" height="1"/><rect x="825" y="562" width="3" height="1"/><rect x="831" y="562" width="3" height="1"/><rect x="837" y="562" width="3" height="1"/><rect x="258" y="563" width="1" height="1"/><rect x="755" y="563" width="1" height="1"/><rect x="759" y="563" width="3" height="1"/><rect x="779" y="563" width="1" height="1"/><rect x="783" y="563" width="3" height="1"/><rect x="843" y="563" width="2" height="1"/><rect x="258" y="564" width="1" height="1"/><rect x="765" y="564" width="3" height="1"/><rect x="771" y="564" width="3" height="1"/><rect x="777" y="564" width="2" height="1"/><rect x="845" y="564" width="1" height="1"/><rect x="849" y="564" width="2" height="1"/><rect x="24" y="565" width="1" height="1"/><rect x="851" y="565" width="1" height="1"/><rect x="855" y="565" width="3" height="1"/><rect x="25" y="566" width="2" height="1"/><rect x="861" y="566" width="3" height="1"/><rect x="867" y="567" width="2" height="1"/><rect x="254" y="568" width="1" height="1"/><rect x="869" y="568" width="1" height="1"/><rect x="873" y="568" width="2" height="1"/><rect x="253" y="569" width="1" height="1"/><rect x="875" y="569" width="1" height="1"/><rect x="879" y="569" width="3" height="1"/><rect x="30" y="570" width="1" height="1"/><rect x="252" y="570" width="1" height="1"/><rect x="885" y="570" width="3" height="1"/><rect x="31" y="571" width="2" height="1"/><rect x="891" y="571" width="3" height="1"/><rect x="897" y="571" width="2" height="1"/><rect x="899" y="572" width="1" height="1"/><rect x="903" y="572" width="3" height="1"/><rect x="909" y="572" width="3" height="1"/><rect x="915" y="573" width="3" height="1"/><rect x="921" y="573" width="2" height="1"/><rect x="36" y="574" width="1" height="1"/><rect x="248" y="574" width="1" height="1"/><rect x="923" y="574" width="1" height="1"/><rect x="927" y="574" width="3" height="1"/><rect x="37" y="575" width="1" height="1"/><rect x="247" y="575" width="1" height="1"/><rect x="933" y="575" width="3" height="1"/><rect x="939" y="575" width="3" height="1"/><rect x="945" y="575" width="3" height="1"/><rect x="951" y="575" width="3" height="1"/><rect x="957" y="575" width="3" height="1"/><rect x="963" y="575" width="3" height="1"/><rect x="969" y="575" width="3" height="1"/><rect x="38" y="576" width="1" height="1"/><rect x="246" y="576" width="1" height="1"/><rect x="42" y="579" width="1" height="1"/><rect x="242" y="579" width="1" height="1"/><rect x="43" y="580" width="1" height="1"/><rect x="241" y="580" width="1" height="1"/><rect x="44" y="581" width="1" height="1"/><rect x="240" y="581" width="1" height="1"/><rect x="236" y="583" width="1" height="1"/><rect x="48" y="584" width="3" height="1"/><rect x="234" y="584" width="2" height="1"/><rect x="54" y="586" width="2" height="1"/><rect x="230" y="586" width="1" height="1"/><rect x="56" y="587" width="1" height="1"/><rect x="228" y="587" width="2" height="1"/><rect x="60" y="589" width="2" height="1"/><rect x="62" y="590" width="1" height="1"/><rect x="223" y="590" width="2" height="1"/><rect x="66" y="591" width="1" height="1"/><rect x="222" y="591" width="1" height="1"/><rect x="67" y="592" width="2" height="1"/><rect x="216" y="593" width="3" height="1"/><rect x="72" y="594" width="1" height="1"/><rect x="73" y="595" width="2" height="1"/><rect x="210" y="595" width="3" height="1"/><rect x="157" y="596" width="2" height="1"/><rect x="162" y="596" width="3" height="1"/><rect x="168" y="596" width="3" height="1"/><rect x="174" y="596" width="3" height="1"/><rect x="204" y="596" width="3" height="1"/><rect x="156" y="597" width="1" height="1"/><rect x="180" y="597" width="1" height="1"/><rect x="198" y="597" width="3" height="1"/><rect x="78" y="598" width="2" height="1"/><rect x="139" y="598" width="2" height="1"/><rect x="144" y="598" width="3" height="1"/><rect x="150" y="598" width="3" height="1"/><rect x="181" y="598" width="2" height="1"/><rect x="186" y="598" width="3" height="1"/><rect x="192" y="598" width="3" height="1"/><rect x="80" y="599" width="1" height="1"/><rect x="132" y="599" width="3" height="1"/><rect x="138" y="599" width="1" height="1"/><rect x="84" y="600" width="1" height="1"/><rect x="126" y="600" width="3" height="1"/><rect x="85" y="601" width="2" height="1"/><rect x="90" y="601" width="1" height="1"/><rect x="115" y="601" width="2" height="1"/><rect x="120" y="601" width="3" height="1"/><rect x="91" y="602" width="2" height="1"/><rect x="96" y="602" width="3" height="1"/><rect x="102" y="602" width="3" height="1"/><rect x="108" y="602" width="3" height="1"/><rect x="114" y="602" width="1" height="1"/></g></g><text x="10" y="507" font-family="'Liberation Sans', Arial, sans-serif" font-size="9.4" fill="#000" stroke="#000" stroke-width="0.15" textLength="154.5" lengthAdjust="spacingAndGlyphs">MACD(12,26,9) -0.002054 -0.002948</text><rect x="1232" y="549" width="2" height="1" fill="#000"/><rect x="1232" y="496" width="2" height="1" fill="#000"/><text x="1234.6" y="505" font-family="'Liberation Sans', Arial, sans-serif" font-size="9.8" fill="#000" stroke="#000" stroke-width="0.15" textLength="39" lengthAdjust="spacingAndGlyphs">0.006137</text><text x="1234.8" y="553" font-family="'Liberation Sans', Arial, sans-serif" font-size="9.8" fill="#000" stroke="#000" stroke-width="0.15" textLength="18.6" lengthAdjust="spacingAndGlyphs">0.00</text><text x="1235" y="609" font-family="'Liberation Sans', Arial, sans-serif" font-size="9.8" fill="#000" stroke="#000" stroke-width="0.15" textLength="41.5" lengthAdjust="spacingAndGlyphs">-0.007142</text><rect x="6" y="613" width="1" height="3" fill="#000"/><text x="5" y="625" font-family="'Liberation Sans', Arial, sans-serif" font-size="9.8" fill="#000" stroke="#000" stroke-width="0.15" textLength="53.7" lengthAdjust="spacingAndGlyphs">27 Aug 2018</text><rect x="70" y="613" width="1" height="3" fill="#000"/><text x="69" y="625" font-family="'Liberation Sans', Arial, sans-serif" font-size="9.8" fill="#000" stroke="#000" stroke-width="0.15" textLength="47.9" lengthAdjust="spacingAndGlyphs">6 Sep 2018</text><rect x="134" y="613" width="1" height="3" fill="#000"/><text x="133" y="625" font-family="'Liberation Sans', Arial, sans-serif" font-size="9.8" fill="#000" stroke="#000" stroke-width="0.15" textLength="53.3" lengthAdjust="spacingAndGlyphs">15 Sep 2018</text><rect x="198" y="613" width="1" height="3" fill="#000"/><text x="197" y="625" font-family="'Liberation Sans', Arial, sans-serif" font-size="9.8" fill="#000" stroke="#000" stroke-width="0.15" textLength="52.8" lengthAdjust="spacingAndGlyphs">25 Sep 2018</text><rect x="262" y="613" width="1" height="3" fill="#000"/><text x="261" y="625" font-family="'Liberation Sans', Arial, sans-serif" font-size="9.8" fill="#000" stroke="#000" stroke-width="0.15" textLength="46.5" lengthAdjust="spacingAndGlyphs">4 Oct 2018</text><rect x="326" y="613" width="1" height="3" fill="#000"/><text x="325" y="625" font-family="'Liberation Sans', Arial, sans-serif" font-size="9.8" fill="#000" stroke="#000" stroke-width="0.15" textLength="51.9" lengthAdjust="spacingAndGlyphs">13 Oct 2018</text><rect x="390" y="613" width="1" height="3" fill="#000"/><text x="389" y="625" font-family="'Liberation Sans', Arial, sans-serif" font-size="9.8" fill="#000" stroke="#000" stroke-width="0.15" textLength="51.6" lengthAdjust="spacingAndGlyphs">23 Oct 2018</text><rect x="454" y="613" width="1" height="3" fill="#000"/><text x="453" y="625" font-family="'Liberation Sans', Arial, sans-serif" font-size="9.8" fill="#000" stroke="#000" stroke-width="0.15" textLength="51.0" lengthAdjust="spacingAndGlyphs">1 Nov 2018</text><rect x="518" y="613" width="1" height="3" fill="#000"/><text x="517" y="625" font-family="'Liberation Sans', Arial, sans-serif" font-size="9.8" fill="#000" stroke="#000" stroke-width="0.15" textLength="55.1" lengthAdjust="spacingAndGlyphs">10 Nov 2018</text><rect x="582" y="613" width="1" height="3" fill="#000"/><text x="581" y="625" font-family="'Liberation Sans', Arial, sans-serif" font-size="9.8" fill="#000" stroke="#000" stroke-width="0.15" textLength="54.4" lengthAdjust="spacingAndGlyphs">20 Nov 2018</text><rect x="646" y="613" width="1" height="3" fill="#000"/><text x="645" y="625" font-family="'Liberation Sans', Arial, sans-serif" font-size="9.8" fill="#000" stroke="#000" stroke-width="0.15" textLength="54.7" lengthAdjust="spacingAndGlyphs">29 Nov 2018</text><rect x="710" y="613" width="1" height="3" fill="#000"/><text x="709" y="625" font-family="'Liberation Sans', Arial, sans-serif" font-size="9.8" fill="#000" stroke="#000" stroke-width="0.15" textLength="48.2" lengthAdjust="spacingAndGlyphs">8 Dec 2018</text><rect x="774" y="613" width="1" height="3" fill="#000"/><text x="773" y="625" font-family="'Liberation Sans', Arial, sans-serif" font-size="9.8" fill="#000" stroke="#000" stroke-width="0.15" textLength="53.1" lengthAdjust="spacingAndGlyphs">18 Dec 2018</text><rect x="838" y="613" width="1" height="3" fill="#000"/><text x="837" y="625" font-family="'Liberation Sans', Arial, sans-serif" font-size="9.8" fill="#000" stroke="#000" stroke-width="0.15" textLength="52.6" lengthAdjust="spacingAndGlyphs">27 Dec 2018</text><rect x="902" y="613" width="1" height="3" fill="#000"/><text x="901" y="625" font-family="'Liberation Sans', Arial, sans-serif" font-size="9.8" fill="#000" stroke="#000" stroke-width="0.15" textLength="47.1" lengthAdjust="spacingAndGlyphs">5 Jan 2019</text><rect x="966" y="613" width="1" height="3" fill="#000"/><text x="965" y="625" font-family="'Liberation Sans', Arial, sans-serif" font-size="9.8" fill="#000" stroke="#000" stroke-width="0.15" textLength="52.0" lengthAdjust="spacingAndGlyphs">15 Jan 2019</text><rect x="60" y="51" width="117" height="24" fill="#ffffff"/><rect x="9" y="51" width="52" height="24" fill="url(#gtop)"/><rect x="9" y="75" width="109" height="40" fill="url(#gbot)"/><rect x="13" y="74" width="44" height="1" fill="#2020a0"/><rect x="13" y="75" width="44" height="1" fill="#8080ff"/><path d="M9.5,51.5 H60.5 V75.5 H117.5 V114.5 H9.5 Z" fill="none" stroke="#0000b0" stroke-width="1" shape-rendering="crispEdges"/><text x="20.8" y="67" font-family="'Liberation Sans', Arial, sans-serif" font-size="12" fill="#fff" textLength="27" lengthAdjust="spacingAndGlyphs">SELL</text><text x="28.6" y="106" font-family="'Liberation Sans', Arial, sans-serif" font-size="12.4" fill="#fff" textLength="24.6" lengthAdjust="spacingAndGlyphs" font-weight="bold">0.98</text><text x="55.2" y="106.3" font-family="'Liberation Sans', Arial, sans-serif" font-size="35" fill="#fff" textLength="38.4" lengthAdjust="spacingAndGlyphs" stroke="url(#gbotU)" stroke-width="0.4">76</text><text x="96.4" y="90" font-family="'Liberation Sans', Arial, sans-serif" font-size="12.4" fill="#fff" textLength="7" lengthAdjust="spacingAndGlyphs" font-weight="bold">3</text><rect x="176" y="51" width="52" height="24" fill="url(#gtop)"/><rect x="120" y="75" width="108" height="40" fill="url(#gbot)"/><rect x="180" y="74" width="44" height="1" fill="#2020a0"/><rect x="180" y="75" width="44" height="1" fill="#8080ff"/><path d="M176.5,51.5 H227.5 V114.5 H120.5 V75.5 H176.5 Z" fill="none" stroke="#0000b0" stroke-width="1" shape-rendering="crispEdges"/><text x="189" y="67" font-family="'Liberation Sans', Arial, sans-serif" font-size="12" fill="#fff" textLength="24" lengthAdjust="spacingAndGlyphs">BUY</text><text x="138.6" y="106" font-family="'Liberation Sans', Arial, sans-serif" font-size="12.4" fill="#fff" textLength="24.6" lengthAdjust="spacingAndGlyphs" font-weight="bold">0.98</text><text x="166.8" y="106.3" font-family="'Liberation Sans', Arial, sans-serif" font-size="35" fill="#fff" textLength="38.4" lengthAdjust="spacingAndGlyphs" stroke="url(#gbotU)" stroke-width="0.4">80</text><text x="206.4" y="90" font-family="'Liberation Sans', Arial, sans-serif" font-size="12.4" fill="#fff" textLength="8" lengthAdjust="spacingAndGlyphs" font-weight="bold">4</text><rect x="63.5" y="51.5" width="110" height="21" fill="#ffffff" stroke="#a8a8a8"/><rect x="64" y="52" width="20" height="20" fill="url(#gbtn)"/><rect x="84" y="52" width="1" height="20" fill="#b8b8b8"/><rect x="153" y="52" width="20" height="20" fill="url(#gbtn)"/><rect x="152" y="52" width="1" height="20" fill="#b8b8b8"/><path d="M71,60 L77,60 L74,63 Z" fill="#5a6ac8"/><path d="M160,63 L166,63 L163,60 Z" fill="#5a6ac8"/><text x="148.5" y="66.5" font-family="'Liberation Sans', Arial, sans-serif" font-size="12.5" fill="#000" text-anchor="end">0.01</text><rect x="1" y="635" width="1278" height="1" fill="#000"/><rect x="0" y="636" width="1279" height="24" fill="#f0f0f0"/><rect x="0" y="636" width="1" height="18" fill="#ffffff"/><rect x="1" y="636" width="1" height="18" fill="#a0a0a0"/><rect x="2" y="636" width="1" height="18" fill="#696969"/><rect x="0" y="654" width="3" height="1" fill="#a0a0a0"/><rect x="1277" y="636" width="1" height="19" fill="#e3e3e3"/><rect x="0" y="655" width="1279" height="1" fill="#ffffff"/><rect x="0" y="659" width="1276" height="1" fill="#a0a0a0"/><rect x="203" y="635" width="100" height="19" fill="#ffffff"/><rect x="203" y="636" width="1" height="18" fill="#000"/><rect x="302" y="636" width="1" height="18" fill="#000"/><rect x="203" y="653" width="100" height="1" fill="#000"/><text x="18.6" y="650" font-family="'Liberation Sans', Arial, sans-serif" font-size="12" fill="#6a6a6a" textLength="70.4" lengthAdjust="spacingAndGlyphs">EURUSD,H4</text><text x="110" y="650" font-family="'Liberation Sans', Arial, sans-serif" font-size="12" fill="#6a6a6a" textLength="82.7" lengthAdjust="spacingAndGlyphs">AUDUSD,Daily</text><text x="213" y="650" font-family="'Liberation Sans', Arial, sans-serif" font-size="12" fill="#000" stroke="#000" stroke-width="0.15" textLength="78.7" lengthAdjust="spacingAndGlyphs">USDCHF,Daily</text><text x="313.6" y="650" font-family="'Liberation Sans', Arial, sans-serif" font-size="12" fill="#6a6a6a" textLength="81.8" lengthAdjust="spacingAndGlyphs">USDCAD,Daily</text><text x="416" y="650" font-family="'Liberation Sans', Arial, sans-serif" font-size="12" fill="#6a6a6a" textLength="85.3" lengthAdjust="spacingAndGlyphs">USDCNH,Daily</text><text x="520.5" y="650" font-family="'Liberation Sans', Arial, sans-serif" font-size="12" fill="#6a6a6a" textLength="76.3" lengthAdjust="spacingAndGlyphs">USDJPY,Daily</text><text x="616.7" y="650" font-family="'Liberation Sans', Arial, sans-serif" font-size="12" fill="#6a6a6a" textLength="95.8" lengthAdjust="spacingAndGlyphs">XAUUSD,Weekly</text><text x="734.3" y="650" font-family="'Liberation Sans', Arial, sans-serif" font-size="12" fill="#6a6a6a" textLength="78.3" lengthAdjust="spacingAndGlyphs">GBPUSD,M15</text><text x="834.6" y="650" font-family="'Liberation Sans', Arial, sans-serif" font-size="12" fill="#6a6a6a" textLength="65.6" lengthAdjust="spacingAndGlyphs">SP500,M15</text><text x="923.6" y="650" font-family="'Liberation Sans', Arial, sans-serif" font-size="12" fill="#6a6a6a" textLength="79.3" lengthAdjust="spacingAndGlyphs">GBPUSD,Daily</text><text x="1024.8" y="650" font-family="'Liberation Sans', Arial, sans-serif" font-size="12" fill="#6a6a6a" textLength="47.4" lengthAdjust="spacingAndGlyphs">DJ30,H4</text><text x="1094" y="650" font-family="'Liberation Sans', Arial, sans-serif" font-size="12" fill="#6a6a6a" textLength="70.7" lengthAdjust="spacingAndGlyphs">TECH100,H1</text><text x="1186.6" y="650" font-family="'Liberation Sans', Arial, sans-serif" font-size="12" fill="#6a6a6a" textLength="52.6" lengthAdjust="spacingAndGlyphs">UKOil,H1</text><rect x="99" y="639" width="1" height="12" fill="#808080"/><rect x="407" y="639" width="1" height="12" fill="#808080"/><rect x="511" y="639" width="1" height="12" fill="#808080"/><rect x="607" y="639" width="1" height="12" fill="#808080"/><rect x="723" y="639" width="1" height="12" fill="#808080"/><rect x="823" y="639" width="1" height="12" fill="#808080"/><rect x="911" y="639" width="1" height="12" fill="#808080"/><rect x="1016" y="639" width="1" height="12" fill="#808080"/><rect x="1084" y="639" width="1" height="12" fill="#808080"/><rect x="1176" y="639" width="1" height="12" fill="#808080"/><path d="M1250.5,641 L1247,644.5 L1250.5,648 Z" fill="#808080"/><path d="M1266,641 L1269.5,644.5 L1266,648 Z" fill="#000"/><rect x="1035.5" y="652.5" width="14" height="9" fill="none" stroke="#ff2020"/></svg>
</div></body></html>
